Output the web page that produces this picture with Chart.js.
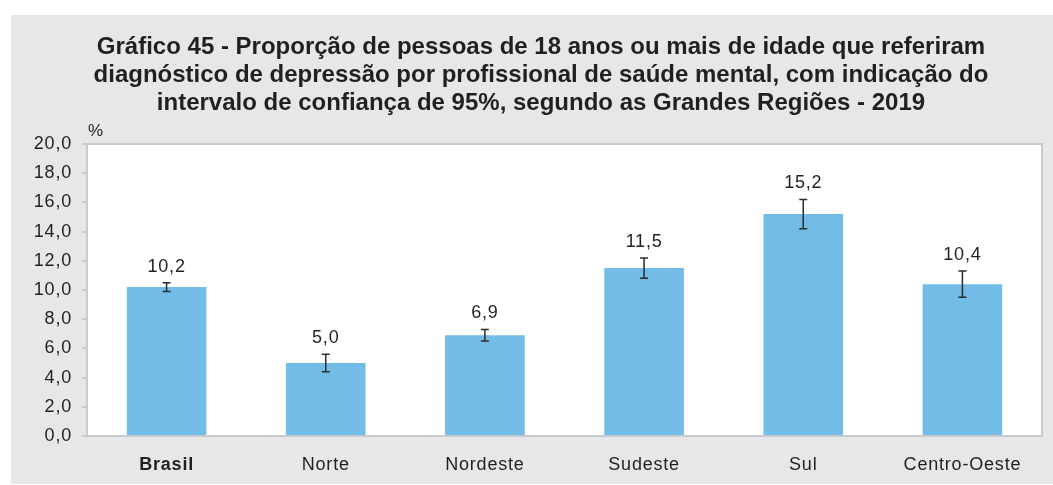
<!DOCTYPE html>
<html>
<head>
<meta charset="utf-8">
<script src="https://cdn.jsdelivr.net/npm/chart.js@4"></script>
<style>
  html, body { margin: 0; padding: 0; background: #fff; }
  #wrap { width: 1053px; height: 485px; }
</style>
</head>
<body>
<div id="wrap"><canvas id="grafico"></canvas></div>
<script>
const regioes = ['Brasil', 'Norte', 'Nordeste', 'Sudeste', 'Sul', 'Centro-Oeste'];
const proporcao = [10.2, 5.0, 6.9, 11.5, 15.2, 10.4];
const limiteInferior = [9.9, 4.4, 6.5, 10.8, 14.2, 9.5];
const limiteSuperior = [10.5, 5.6, 7.3, 12.2, 16.2, 11.3];
const ticksY = [0, 2, 4, 6, 8, 10, 12, 14, 16, 18, 20];
const titulo = [
  'Gráfico 45 - Proporção de pessoas de 18 anos ou mais de idade que referiram',
  'diagnóstico de depressão por profissional de saúde mental, com indicação do',
  'intervalo de confiança de 95%, segundo as Grandes Regiões - 2019'
];

const FONTE = '"Liberation Sans", Arial, sans-serif';
const TEXTO = '#231f20';
const CINZA_BORDA = '#c9cacc';

const virgula = v => v.toFixed(1).replace('.', ',');

// fundo cinza, titulo e area branca do grafico
const fundo = {
  id: 'fundo',
  beforeDraw(chart) {
    const { ctx, chartArea: a } = chart;
    ctx.save();
    ctx.fillStyle = '#e6e7e8';
    ctx.fillRect(11, 15, chart.width - 11, 469);
    ctx.fillStyle = '#fff';
    ctx.fillRect(a.left, a.top, a.right - a.left, a.bottom - a.top);

    ctx.fillStyle = TEXTO;
    ctx.textAlign = 'center';
    ctx.textBaseline = 'middle';
    ctx.font = 'bold 24px ' + FONTE;
    titulo.forEach((linha, i) => ctx.fillText(linha, 541, 47 + i * 28));

    ctx.textAlign = 'left';
    ctx.font = '17px ' + FONTE;
    ctx.fillText('%', 88, 131);
    ctx.restore();
    // rotulos dos eixos um pouco mais espacados
    ctx.letterSpacing = '0.8px';
  },
  afterDraw(chart) {
    chart.ctx.letterSpacing = '0px';
  }
};

// intervalos de confianca e rotulos de valor
const intervalos = {
  id: 'intervalos',
  afterDatasetsDraw(chart) {
    const { ctx, chartArea: a, scales: { x, y } } = chart;
    ctx.save();
    ctx.strokeStyle = CINZA_BORDA;
    ctx.lineWidth = 2;
    ctx.strokeRect(a.left, a.top, a.right - a.left, a.bottom - a.top);

    ctx.strokeStyle = '#2b2b2b';
    ctx.lineWidth = 1.5;
    ctx.fillStyle = TEXTO;
    ctx.font = '18px ' + FONTE;
    ctx.textAlign = 'center';
    ctx.textBaseline = 'alphabetic';
    regioes.forEach((r, i) => {
      const px = x.getPixelForValue(i);
      const yS = y.getPixelForValue(limiteSuperior[i]);
      const yI = y.getPixelForValue(limiteInferior[i]);
      ctx.beginPath();
      ctx.moveTo(px, yS); ctx.lineTo(px, yI);
      ctx.moveTo(px - 4, yS); ctx.lineTo(px + 4, yS);
      ctx.moveTo(px - 4, yI); ctx.lineTo(px + 4, yI);
      ctx.stroke();
      ctx.fillText(virgula(proporcao[i]), px, yS - 11);
    });
    ctx.restore();
  }
};

new Chart(document.getElementById('grafico'), {
  type: 'bar',
  data: {
    labels: regioes,
    datasets: [{
      data: proporcao,
      backgroundColor: '#73bce7',
      barPercentage: 0.5,
      categoryPercentage: 1
    }]
  },
  options: {
    responsive: true,
    maintainAspectRatio: false,
    animation: false,
    layout: { padding: { top: 144, right: 11, left: 0, bottom: 0 } },
    plugins: {
      legend: { display: false },
      tooltip: { enabled: false }
    },
    scales: {
      x: {
        grid: { display: false },
        border: { display: false },
        ticks: {
          color: TEXTO,
          padding: 10,
          font: c => ({ family: FONTE, size: 18, weight: c.index === 0 ? 'bold' : 'normal' })
        },
        afterFit: s => { s.height = 49; }
      },
      y: {
        min: 0,
        max: 20,
        afterBuildTicks: s => { s.ticks = ticksY.map(v => ({ value: v })); },
        grid: { drawOnChartArea: false, tickLength: 5, color: CINZA_BORDA, lineWidth: 2 },
        border: { color: CINZA_BORDA, width: 2 },
        ticks: {
          color: TEXTO,
          padding: 10,
          font: { family: FONTE, size: 18 },
          callback: v => virgula(v)
        },
        afterFit: s => { s.width = 87; }
      }
    }
  },
  plugins: [fundo, intervalos]
});
</script>
</body>
</html>
